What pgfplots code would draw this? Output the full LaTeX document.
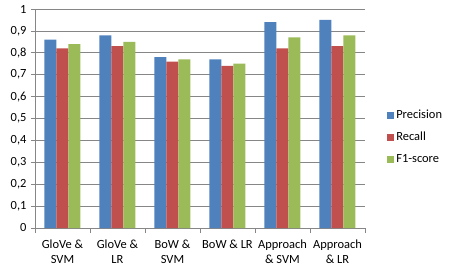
\documentclass[border=0pt]{standalone}
\usepackage{pgfplots}
\pgfplotsset{compat=1.18}
\usepackage{fontspec}
\setmainfont{Carlito}
\definecolor{cblue}{HTML}{4F81BD}
\definecolor{cred}{HTML}{C0504D}
\definecolor{cgreen}{HTML}{9BBB59}
\definecolor{cgrid}{HTML}{868686}
\begin{document}
\begin{tikzpicture}
\begin{axis}[
  at={(0,0)}, anchor=south west,
  scale only axis, width=330bp, height=219bp,
  ybar=0pt, bar width=12bp,
  xmin=-0.5, xmax=5.5, ymin=0, ymax=1,
  xtick={0,1,2,3,4,5},
  xticklabels={{GloVe \&\\SVM},{GloVe \&\\LR},{BoW \&\\SVM},{BoW \& LR\\\mbox{}},{Approach\\\& SVM},{Approach\\\& LR}},
  xticklabel style={align=center, font=\fontsize{12.5}{15.5}\selectfont, yshift=-4bp},
  major x tick style={draw=none},
  minor xtick={-0.5,0.5,1.5,2.5,3.5,4.5,5.5},
  minor x tick style={draw=cgrid, thick},
  minor tick length=5bp,
  ytick={0,0.1,0.2,0.3,0.4,0.5,0.6,0.7,0.8,0.9,1},
  yticklabels={0,{0,1},{0,2},{0,3},{0,4},{0,5},{0,6},{0,7},{0,8},{0,9},1},
  yticklabel style={font=\fontsize{12.5}{14}\selectfont, xshift=-1bp},
  major tick length=4bp,
  y tick style={draw=cgrid, thick},
  tick align=outside,
  ymajorgrids, grid style={cgrid, thick},
  axis x line*=bottom, axis y line*=left,
  axis line style={cgrid, thick, -},
  legend style={at={(1.067,0.415)}, anchor=west, draw=none, font=\fontsize{12.5}{14}\selectfont, row sep=8bp, inner sep=0pt},
  legend cell align=left,
  legend image code/.code={\fill[#1] (0bp,-3.5bp) rectangle (7bp,3.5bp);},
  enlarge x limits=false,
]
\addplot[fill=cblue, draw=none] coordinates {(0,0.86) (1,0.88) (2,0.78) (3,0.77) (4,0.94) (5,0.95)};
\addplot[fill=cred, draw=none] coordinates {(0,0.82) (1,0.83) (2,0.76) (3,0.74) (4,0.82) (5,0.83)};
\addplot[fill=cgreen, draw=none] coordinates {(0,0.84) (1,0.85) (2,0.77) (3,0.75) (4,0.87) (5,0.88)};
\legend{Precision,Recall,F1-score}
\end{axis}
\path[use as bounding box] (-35bp,-47bp) rectangle (421bp,228bp);
\end{tikzpicture}
\end{document}
